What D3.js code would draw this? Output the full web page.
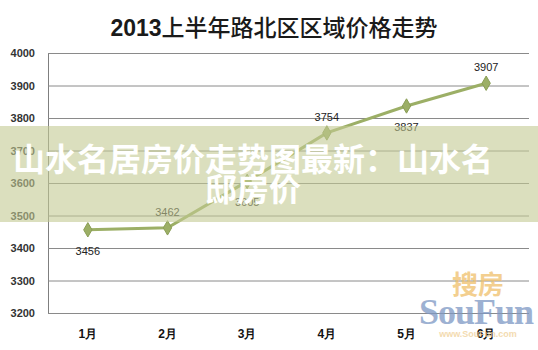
<!DOCTYPE html>
<html>
<head>
<meta charset="utf-8">
<script src="https://cdn.jsdelivr.net/npm/d3@7"></script>
<style>
  body { margin: 0; background: #fff; }
  svg { display: block; font-family: "Liberation Sans", "Noto Sans CJK SC", sans-serif; }
</style>
</head>
<body>
<div id="chart"></div>
<script>
// chart data
var months = ["1月", "2月", "3月", "4月", "5月", "6月"];
var prices = [3456, 3462, 3605, 3754, 3837, 3907];
var yTicks = [3200, 3300, 3400, 3500, 3600, 3700, 3800, 3900, 4000];
var labelSide = ["below", "above", "below", "above", "below", "above"];

var titleYear = "2013";
var titleRest = "上半年路北区区域价格走势";
var bannerLines = ["山水名居房价走势图最新：山水名", "邸房价"];

var W = 538, H = 350;
var margin = { top: 53, right: 12, bottom: 37, left: 48 };

var svg = d3.select("#chart").append("svg")
  .attr("width", W)
  .attr("height", H);

var x = d3.scaleBand()
  .domain(months)
  .range([margin.left, W - margin.right]);

var y = d3.scaleLinear()
  .domain([3200, 4000])
  .range([H - margin.bottom, margin.top]);

// title
var title = svg.append("text")
  .attr("x", 274)
  .attr("y", 36)
  .attr("text-anchor", "middle")
  .attr("fill", "#1a1a1a")
  .style("font-size", "23px");
title.append("tspan")
  .style("font-family", "'Liberation Sans', sans-serif")
  .style("font-weight", "bold")
  .text(titleYear);
title.append("tspan")
  .style("font-family", "'Noto Sans CJK SC', sans-serif")
  .style("font-weight", "500")
  .text(titleRest);

// gridlines + y labels
var yAxis = d3.axisLeft(y)
  .tickValues(yTicks)
  .tickSize(-(W - margin.right - margin.left + 3))
  .tickPadding(13)
  .tickFormat(d3.format("d"));

var gy = svg.append("g")
  .attr("transform", "translate(" + margin.left + ",0)")
  .call(yAxis);
gy.select(".domain").attr("stroke", "#7f7f7f");
gy.selectAll(".tick line").attr("stroke", "#8a8a8a");
gy.selectAll(".tick text")
  .attr("fill", "#333")
  .style("font-size", "11px")
  .style("font-weight", "bold");

// x labels
var xAxis = d3.axisBottom(x).tickSize(0).tickPadding(16);
var gx = svg.append("g")
  .attr("transform", "translate(0," + (H - margin.bottom) + ")")
  .call(xAxis);
gx.select(".domain").remove();
gx.selectAll(".tick text")
  .attr("fill", "#111")
  .style("font-size", "12px")
  .style("font-weight", "bold");

// series
var cx = function(d, i) { return x(months[i]) + x.bandwidth() / 2; };

var line = d3.line()
  .x(cx)
  .y(function(d) { return y(d); });

svg.append("path")
  .datum(prices)
  .attr("d", line)
  .attr("fill", "none")
  .attr("stroke", "#9caf66")
  .attr("stroke-width", 3);

svg.selectAll(".pt")
  .data(prices)
  .enter()
  .append("path")
  .attr("class", "pt")
  .attr("d", d3.symbol().type(d3.symbolDiamond).size(60))
  .attr("transform", function(d, i) { return "translate(" + cx(d, i) + "," + y(d) + ")"; })
  .attr("fill", "#9caf66")
  .attr("stroke", "#8a9e55")
  .attr("stroke-width", 1);

svg.selectAll(".lbl")
  .data(prices)
  .enter()
  .append("text")
  .attr("class", "lbl")
  .attr("x", cx)
  .attr("y", function(d, i) { return y(d) + (labelSide[i] == "above" ? -12 : 25); })
  .attr("text-anchor", "middle")
  .attr("fill", "#222")
  .style("font-size", "11px")
  .text(function(d) { return d; });

// watermark (bottom right)
var wm = svg.append("g").attr("opacity", 0.75);
wm.append("text")
  .attr("x", 478).attr("y", 294)
  .attr("text-anchor", "middle")
  .attr("fill", "#efc06a")
  .style("font-family", "'Noto Sans CJK SC', sans-serif")
  .style("font-weight", "bold")
  .style("font-size", "26px")
  .text("搜房");
wm.append("text")
  .attr("x", 476).attr("y", 324)
  .attr("text-anchor", "middle")
  .attr("fill", "#7d98c4")
  .style("font-family", "'Liberation Serif', serif")
  .style("font-weight", "bold")
  .style("font-size", "36px")
  .style("letter-spacing", "-1px")
  .text("SouFun");
wm.append("text")
  .attr("x", 478).attr("y", 337)
  .attr("text-anchor", "middle")
  .attr("fill", "#f0cf96")
  .style("font-size", "9px")
  .style("font-weight", "bold")
  .text("www.SouFun.com");

// translucent banner on top
svg.append("rect")
  .attr("x", 0).attr("y", 126)
  .attr("width", W).attr("height", 96)
  .attr("fill", "#c3ca93")
  .attr("opacity", 0.6);

svg.selectAll(".banner")
  .data(bannerLines)
  .enter()
  .append("text")
  .attr("class", "banner")
  .attr("x", 253)
  .attr("y", function(d, i) { return 171 + i * 30; })
  .attr("text-anchor", "middle")
  .attr("fill", "#fff")
  .style("font-family", "'Noto Sans CJK SC', sans-serif")
  .style("font-weight", "bold")
  .style("font-size", "32px")
  .text(function(d) { return d; });
</script>
</body>
</html>
